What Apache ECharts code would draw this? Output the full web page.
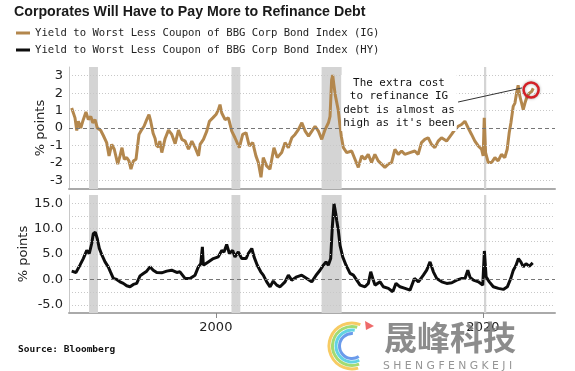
<!DOCTYPE html>
<html><head><meta charset="utf-8">
<script src="https://cdn.jsdelivr.net/npm/echarts@6/dist/echarts.min.js"></script>
<style>html,body{margin:0;padding:0;background:#fff}#c{width:575px;height:371px}</style>
</head><body><div id="c"></div>
<script>
const titleText = 'Corporates Will Have to Pay More to Refinance Debt';
const seriesNames = ['Yield to Worst Less Coupon of BBG Corp Bond Index (IG)', 'Yield to Worst Less Coupon of BBG Corp Bond Index (HY)'];
const igYears = [1989.20,1989.45,1989.58,1989.70,1989.88,1990.07,1990.27,1990.45,1990.63,1990.78,1990.95,1991.12,1991.37,1991.57,1991.82,1992.00,1992.20,1992.39,1992.65,1992.82,1992.97,1993.14,1993.32,1993.49,1993.64,1993.82,1994.02,1994.24,1994.45,1994.62,1994.82,1994.99,1995.12,1995.30,1995.45,1995.55,1995.70,1995.80,1995.95,1996.20,1996.45,1996.70,1996.95,1997.20,1997.45,1997.70,1997.95,1998.20,1998.45,1998.70,1998.82,1999.07,1999.32,1999.52,1999.77,2000.01,2000.19,2000.31,2000.44,2000.69,2000.94,2001.19,2001.43,2001.76,2002.01,2002.26,2002.50,2002.76,2003.00,2003.18,2003.38,2003.55,2003.80,2004.05,2004.35,2004.60,2004.93,2005.18,2005.43,2005.69,2005.93,2006.18,2006.44,2006.69,2006.94,2007.19,2007.43,2007.68,2007.93,2008.18,2008.43,2008.55,2008.67,2008.75,2008.84,2008.94,2009.05,2009.17,2009.30,2009.40,2009.55,2009.80,2010.17,2010.42,2010.67,2010.92,2011.16,2011.41,2011.66,2011.91,2012.16,2012.41,2012.66,2012.91,2013.16,2013.41,2013.66,2013.91,2014.15,2014.53,2014.90,2015.15,2015.40,2015.65,2015.90,2016.15,2016.40,2016.65,2016.90,2017.28,2017.65,2017.90,2018.15,2018.40,2018.65,2018.90,2019.15,2019.40,2019.65,2019.90,2020.02,2020.10,2020.20,2020.40,2020.65,2020.90,2021.14,2021.39,2021.64,2021.82,2021.97,2022.10,2022.27,2022.40,2022.52,2022.64,2022.77,2022.90,2023.02,2023.15,2023.27,2023.47,2023.65,2023.77];
const igValues = [1.15,0.58,-0.14,0.39,0.0,0.48,0.92,0.48,0.67,0.30,0.48,0.0,-0.13,-0.43,-0.84,-1.6,-0.94,-1.22,-2.07,-1.6,-1.13,-1.79,-1.7,-1.89,-2.36,-1.89,-1.79,-0.37,-0.09,0.1,0.48,0.77,0.39,-0.3,-0.6,-1.0,-1.1,-0.75,-1.41,-0.6,-0.12,-0.37,-0.9,-0.12,-0.65,-0.75,-1.22,-0.75,-1.13,-1.6,-0.94,-0.65,-0.18,0.39,0.58,0.77,1.05,1.34,0.86,0.48,0.58,-0.18,-0.56,-1.13,-0.37,-0.27,-1.03,-0.84,-1.6,-1.98,-2.83,-1.7,-2.17,-2.36,-1.13,-1.7,-1.41,-0.84,-1.13,-0.56,-0.37,-0.09,0.3,-0.18,-0.47,-0.18,0.1,-0.18,-0.65,-0.09,0.3,0.67,2.76,3.04,2.47,1.9,2.0,1.0,0.1,-0.5,-1.13,-1.41,-1.32,-1.79,-2.26,-1.6,-1.79,-1.51,-1.98,-1.51,-1.89,-2.07,-2.26,-2.07,-1.98,-1.22,-1.51,-1.32,-1.51,-1.41,-1.32,-1.51,-0.84,-0.65,-0.56,-0.94,-1.13,-0.75,-0.56,-0.75,-0.37,-0.09,0.1,0.2,0.39,0.0,-0.37,-0.75,-1.03,-1.22,-1.6,0.58,-1.41,-1.98,-1.98,-1.7,-1.89,-1.51,-1.7,-1.22,-0.27,0.3,1.24,1.43,2.0,2.45,1.81,1.43,1.05,1.43,1.72,2.0,2.09,2.28];
const hyYears = [1989.20,1989.52,1989.82,1990.07,1990.33,1990.52,1990.70,1990.82,1990.97,1991.12,1991.27,1991.47,1991.70,1991.94,1992.12,1992.32,1992.57,1992.82,1993.07,1993.32,1993.57,1993.82,1994.07,1994.32,1994.57,1994.82,1995.07,1995.31,1995.57,1995.94,1996.32,1996.69,1997.07,1997.31,1997.69,1998.06,1998.44,1998.69,1998.87,1998.99,1999.06,1999.43,1999.81,2000.18,2000.44,2000.61,2000.81,2001.01,2001.26,2001.43,2001.68,2001.94,2002.26,2002.43,2002.69,2002.86,2003.10,2003.36,2003.55,2003.81,2004.06,2004.30,2004.56,2004.81,2005.18,2005.43,2005.68,2006.06,2006.43,2006.81,2007.18,2007.55,2007.80,2008.05,2008.25,2008.42,2008.60,2008.72,2008.85,2008.98,2009.05,2009.17,2009.30,2009.50,2009.75,2010.05,2010.30,2010.55,2010.80,2011.17,2011.42,2011.60,2011.75,2011.92,2012.30,2012.54,2012.92,2013.25,2013.49,2013.79,2014.17,2014.54,2014.87,2015.17,2015.54,2015.79,2016.04,2016.29,2016.54,2016.92,2017.29,2017.67,2018.04,2018.42,2018.66,2018.87,2019.04,2019.29,2019.66,2019.99,2020.11,2020.24,2020.48,2020.78,2021.16,2021.53,2021.83,2022.09,2022.28,2022.48,2022.66,2022.84,2023.03,2023.23,2023.48,2023.73];
const hyValues = [1.63,1.37,2.8,4.1,5.7,5.1,7.06,9.0,9.3,8.0,6.1,4.76,3.45,2.47,1.37,0.2,0.0,-0.47,-0.78,-1.25,-1.45,-0.98,-0.78,0.7,1.18,1.63,2.47,1.82,1.37,1.3,1.63,1.82,1.37,1.5,0.2,0.2,0.84,2.47,3.1,6.4,2.8,3.45,4.1,4.43,5.7,5.4,6.86,5.1,5.7,4.43,5.4,4.1,4.1,5.1,6.08,4.43,2.8,1.5,0.84,-0.47,-1.45,-0.33,-1.12,-1.45,-0.47,0.84,-0.14,0.51,0.84,0.2,-0.47,0.98,1.8,2.8,3.45,2.8,4.1,10.3,14.9,12.9,11.6,9.7,6.7,4.43,2.8,1.18,0.84,-0.14,-1.12,-1.45,-0.78,1.5,0.2,-1.12,-0.47,-1.45,-1.76,-2.43,-0.78,-1.45,-1.76,-2.1,0.2,-0.47,0.84,1.82,3.45,1.5,0.2,-0.47,-0.78,-0.65,-0.14,0.2,0.2,1.82,0.4,-0.14,-0.47,-1.12,5.6,0.51,-0.47,-1.45,-1.76,-1.96,-1.45,0.2,1.82,2.8,4.1,3.45,2.47,3.1,2.6,3.25];
const recessionStart = [1990.5, 2001.17, 2007.92, 2020.08];
const recessionEnd = [1991.17, 2001.83, 2009.42, 2020.25];
const xTickLabels = [2000, 2020];
const igTicks = [3, 2, 1, 0, -1, -2, -3];
const hyTicks = [15, 10, 5, 0, -5];
const hyGridLines = [15, 12.5, 10, 7.5, 5, 2.5, 0, -2.5, -5];
const annotationText = "The extra cost\nto refinance IG\ndebt is almost as\nhigh as it's been";
const annotationFrom = [2018.14, 1.49];
const annotationTo = [2022.93, 2.30];
const circleAt = [2023.61, 2.18];
const sourceText = 'Source: Bloomberg';

const IG_COLOR = '#b3874d';
const HY_COLOR = '#0d0d0d';
const zip = (xs, ys) => xs.map((x, i) => [x, ys[i]]);

function gridMarkLine(vals) {
  return {
    silent: true, symbol: ['none', 'none'], label: { show: false },
    data: vals.map(v => ({
      yAxis: v,
      lineStyle: v === 0 ? { color: '#777', type: [4, 3], width: 1 } : { color: '#c8c8c8', type: [1, 2], width: 1 }
    }))
  };
}
function recessionArea() {
  return {
    silent: true, itemStyle: { color: '#d4d4d4' },
    data: recessionStart.map((s, i) => [{ xAxis: s }, { xAxis: recessionEnd[i] }])
  };
}

const chart = echarts.init(document.getElementById('c'), null, { renderer: 'canvas' });
const axisFont = { fontFamily: 'DejaVu Sans', fontSize: 13, color: '#222' };
chart.setOption({
  animation: false,
  backgroundColor: '#fff',
  title: { text: titleText, left: 9, top: 0, textStyle: { fontFamily: 'Liberation Sans', fontWeight: 'bold', fontSize: 14.2, color: '#1a1a1a' } },
  legend: {
    orient: 'vertical', left: 16, top: 26, padding: 0, itemWidth: 14, itemHeight: 3, itemGap: 3, icon: 'rect',
    data: seriesNames,
    textStyle: { fontFamily: 'DejaVu Sans Mono', fontSize: 10.6, color: '#222', lineHeight: 14 }
  },
  grid: [
    { left: 69, right: 20, top: 67, height: 122 },
    { left: 69, right: 20, top: 195, height: 118 }
  ],
  xAxis: [
    { type: 'value', gridIndex: 0, min: 1989, max: 2025.4, splitLine: { show: false },
      axisLine: { onZero: false, lineStyle: { color: '#aaa', width: 2 } }, axisTick: { show: false }, axisLabel: { show: false } },
    { type: 'value', gridIndex: 1, min: 1989, max: 2025.4, splitLine: { show: false },
      axisLine: { onZero: false, lineStyle: { color: '#aaa', width: 2 } },
      axisTick: { show: true, customValues: xTickLabels, length: 5, lineStyle: { color: '#888' } },
      axisLabel: Object.assign({ customValues: xTickLabels, margin: 8, formatter: v => String(Math.round(v)) }, axisFont) }
  ],
  yAxis: [
    { type: 'value', gridIndex: 0, min: -3.5, max: 3.5, splitLine: { show: false },
      axisLine: { show: true, onZero: false, lineStyle: { color: '#c8c8c8' } }, axisTick: { show: false },
      axisLabel: Object.assign({ customValues: igTicks, margin: 6, formatter: v => String(Math.round(v)) }, axisFont),
      name: '% points', nameLocation: 'middle', nameGap: 22, nameMoveOverlap: false, nameTextStyle: axisFont },
    { type: 'value', gridIndex: 1, min: -6.6, max: 16.6, splitLine: { show: false },
      axisLine: { show: true, onZero: false, lineStyle: { color: '#c8c8c8' } }, axisTick: { show: false },
      axisLabel: Object.assign({ customValues: hyTicks, margin: 6, formatter: v => (Math.round(v * 10) / 10).toFixed(1) }, axisFont),
      name: '% points', nameLocation: 'middle', nameGap: 39, nameMoveOverlap: false, nameTextStyle: axisFont }
  ],
  series: [
    { name: 'bgTop', type: 'line', xAxisIndex: 0, yAxisIndex: 0, data: zip(igYears, igValues), silent: true, z: 1,
      showSymbol: false, lineStyle: { opacity: 0 }, itemStyle: { opacity: 0 }, markArea: recessionArea(), markLine: gridMarkLine(igTicks) },
    { name: 'bgBottom', type: 'line', xAxisIndex: 1, yAxisIndex: 1, data: zip(hyYears, hyValues), silent: true, z: 1,
      showSymbol: false, lineStyle: { opacity: 0 }, itemStyle: { opacity: 0 }, markArea: recessionArea(), markLine: gridMarkLine(hyGridLines) },
    { name: seriesNames[0], type: 'line', xAxisIndex: 0, yAxisIndex: 0, data: zip(igYears, igValues), z: 3,
      showSymbol: false, color: IG_COLOR, lineStyle: { width: 3, color: IG_COLOR }, itemStyle: { color: IG_COLOR },
      markLine: { silent: true, symbol: ['none', 'none'], label: { show: false },
        lineStyle: { color: '#333', width: 1, type: 'solid' },
        data: [[{ coord: annotationFrom }, { coord: annotationTo }]] },
      markPoint: { silent: true, symbol: 'circle', symbolSize: 15, label: { show: false },
        itemStyle: { color: 'rgba(255,255,255,0)', borderColor: '#d41f26', borderWidth: 2.5, shadowBlur: 3, shadowColor: 'rgba(0,0,0,0.35)' },
        data: [{ coord: circleAt }] } },
    { name: seriesNames[1], type: 'line', xAxisIndex: 1, yAxisIndex: 1, data: zip(hyYears, hyValues), z: 3,
      showSymbol: false, color: HY_COLOR, lineStyle: { width: 3, color: HY_COLOR }, itemStyle: { color: HY_COLOR } }
  ],
  graphic: [
    { type: 'text', z: 10, style: { text: annotationText, x: 399, y: 75, align: 'center', verticalAlign: 'top',
      font: '10.9px "DejaVu Sans Mono"', lineHeight: 13.5, fill: '#111', backgroundColor: '#fff', padding: [1, 2] } },
    { type: 'text', style: { text: sourceText, x: 18, y: 345, font: 'bold 9.5px "DejaVu Sans Mono"', fill: '#111' } },
    { type: 'text', z: 20, style: { text: '晟峰科技', x: 384, y: 321, font: 'bold 33px "Noto Sans CJK SC"', fill: 'rgba(120,120,120,0.85)' } },
    { type: 'text', z: 20, style: { text: 'S H E N G F E N G K E J I', x: 383, y: 361, font: '10.8px "DejaVu Sans"', fill: 'rgba(130,130,130,0.85)' } },
    { type: 'arc', z: 20, shape: { cx: 352, cy: 346, r: 23, startAngle: -1.2, endAngle: 1.3, clockwise: false }, style: { stroke: 'rgba(245,190,60,0.8)', lineWidth: 3, fill: null } },
    { type: 'arc', z: 20, shape: { cx: 352, cy: 346, r: 19.5, startAngle: -1.3, endAngle: 1.2, clockwise: false }, style: { stroke: 'rgba(140,210,80,0.8)', lineWidth: 3, fill: null } },
    { type: 'arc', z: 20, shape: { cx: 352, cy: 346, r: 16, startAngle: -1.4, endAngle: 1.1, clockwise: false }, style: { stroke: 'rgba(60,200,220,0.8)', lineWidth: 3, fill: null } },
    { type: 'arc', z: 20, shape: { cx: 352, cy: 346, r: 12.5, startAngle: -1.5, endAngle: 1.0, clockwise: false }, style: { stroke: 'rgba(70,130,230,0.8)', lineWidth: 3, fill: null } },
    { type: 'polygon', z: 20, shape: { points: [[365, 321], [374, 326], [366, 330]] }, style: { fill: 'rgba(235,80,80,0.85)' } }
  ]
});
</script></body></html>
